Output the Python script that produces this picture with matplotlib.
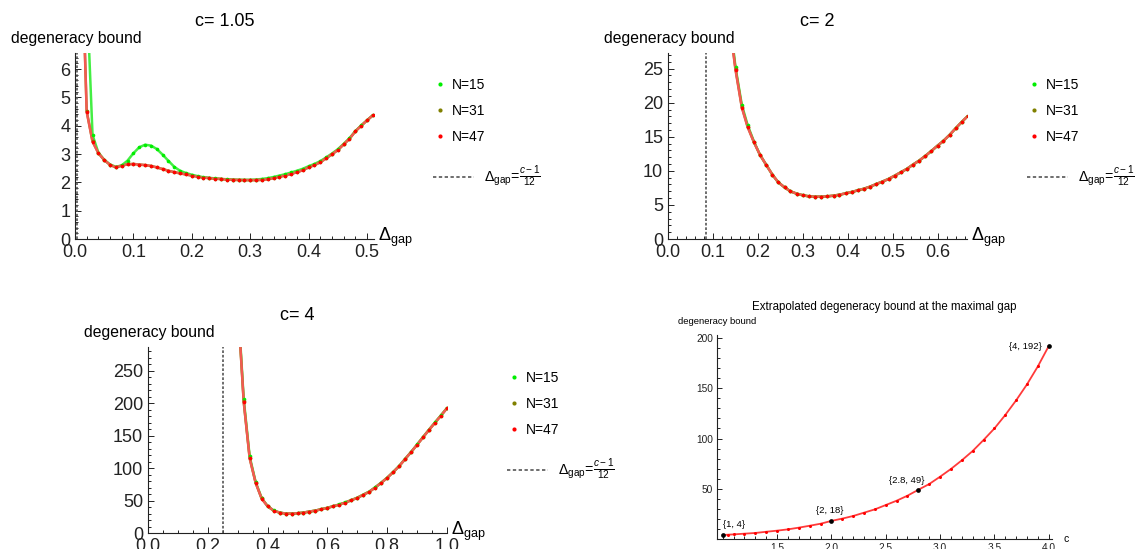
import matplotlib
matplotlib.use("Agg")
import matplotlib.pyplot as plt
from matplotlib.lines import Line2D
from matplotlib.ticker import MultipleLocator

plt.rcParams['font.family'] = 'Liberation Sans'
plt.rcParams['mathtext.fontset'] = 'custom'
plt.rcParams['mathtext.rm'] = 'Liberation Sans'
plt.rcParams['mathtext.it'] = 'Liberation Sans:italic'
plt.rcParams['mathtext.bf'] = 'Liberation Sans:bold'

# ---- c = 1.05 ----
gap_105 = [0.01, 0.02, 0.03, 0.04, 0.05, 0.06, 0.07, 0.08, 0.09, 0.10,
           0.11, 0.12, 0.13, 0.14, 0.15, 0.16, 0.17, 0.18, 0.19, 0.20,
           0.21, 0.22, 0.23, 0.24, 0.25, 0.26, 0.27, 0.28, 0.29, 0.30,
           0.31, 0.32, 0.33, 0.34, 0.35, 0.36, 0.37, 0.38, 0.39, 0.40,
           0.41, 0.42, 0.43, 0.44, 0.45, 0.46, 0.47, 0.48, 0.49, 0.50, 0.51]
n15_105 = [14.0, 8.8, 3.68, 3.05, 2.80, 2.63, 2.55, 2.60, 2.77, 3.03,
           3.24, 3.33, 3.30, 3.18, 2.98, 2.76, 2.55, 2.41, 2.33, 2.27,
           2.22, 2.18, 2.16, 2.14, 2.12, 2.11, 2.10, 2.09, 2.09, 2.09,
           2.10, 2.12, 2.15, 2.19, 2.24, 2.29, 2.35, 2.41, 2.48, 2.57,
           2.65, 2.75, 2.88, 3.02, 3.17, 3.36, 3.56, 3.81, 4.01, 4.19, 4.37]
n31_105 = [11.5, 4.52, 3.45, 3.04, 2.79, 2.62, 2.53, 2.59, 2.64, 2.65,
           2.63, 2.61, 2.58, 2.53, 2.47, 2.41, 2.36, 2.32, 2.28, 2.24,
           2.20, 2.17, 2.15, 2.13, 2.12, 2.10, 2.09, 2.085, 2.08, 2.08,
           2.08, 2.09, 2.11, 2.15, 2.20, 2.24, 2.30, 2.36, 2.43, 2.53,
           2.61, 2.71, 2.85, 2.99, 3.14, 3.34, 3.54, 3.80, 4.00, 4.19, 4.37]
n47_105 = [11.2, 4.49, 3.44, 3.03, 2.79, 2.62, 2.53, 2.59, 2.64, 2.65,
           2.63, 2.61, 2.58, 2.53, 2.47, 2.41, 2.36, 2.32, 2.28, 2.24,
           2.20, 2.17, 2.15, 2.13, 2.12, 2.10, 2.09, 2.085, 2.08, 2.08,
           2.08, 2.09, 2.11, 2.15, 2.20, 2.24, 2.30, 2.36, 2.43, 2.53,
           2.61, 2.71, 2.85, 2.99, 3.14, 3.34, 3.54, 3.80, 4.00, 4.19, 4.37]

# ---- c = 2 ----
gap_2 = [0.136, 0.150, 0.164, 0.177, 0.191, 0.204, 0.218, 0.232, 0.245, 0.259,
         0.272, 0.286, 0.300, 0.313, 0.327, 0.340, 0.354, 0.368, 0.381, 0.395,
         0.408, 0.422, 0.436, 0.449, 0.463, 0.476, 0.490, 0.504, 0.517, 0.531,
         0.544, 0.558, 0.572, 0.585, 0.599, 0.612, 0.626, 0.640, 0.653, 0.667]
n15_2 = [33.0, 25.2, 19.7, 16.7, 14.3, 12.4, 10.9, 9.44, 8.32, 7.58,
         7.00, 6.65, 6.41, 6.26, 6.21, 6.21, 6.26, 6.36, 6.50, 6.70,
         6.90, 7.14, 7.39, 7.68, 8.07, 8.41, 8.81, 9.30, 9.78, 10.3,
         10.9, 11.5, 12.2, 12.9, 13.7, 14.4, 15.3, 16.3, 17.2, 18.1]
n31_2 = [32.2, 25.0, 19.4, 16.5, 14.2, 12.4, 10.9, 9.44, 8.32, 7.58,
         7.00, 6.65, 6.41, 6.26, 6.21, 6.21, 6.26, 6.36, 6.50, 6.70,
         6.90, 7.14, 7.39, 7.68, 8.07, 8.41, 8.81, 9.30, 9.78, 10.3,
         10.9, 11.5, 12.2, 12.9, 13.7, 14.4, 15.3, 16.3, 17.2, 18.1]
n47_2 = [32.0, 24.8, 19.3, 16.4, 14.2, 12.4, 10.9, 9.44, 8.32, 7.58,
         7.00, 6.65, 6.41, 6.26, 6.21, 6.21, 6.26, 6.36, 6.50, 6.70,
         6.90, 7.14, 7.39, 7.68, 8.07, 8.41, 8.81, 9.30, 9.78, 10.3,
         10.9, 11.5, 12.2, 12.9, 13.7, 14.4, 15.3, 16.3, 17.2, 18.1]

# ---- c = 4 ----
gap_4 = [0.30, 0.32, 0.34, 0.36, 0.38, 0.40, 0.42, 0.44, 0.46, 0.48,
         0.50, 0.52, 0.54, 0.56, 0.58, 0.60, 0.62, 0.64, 0.66, 0.68,
         0.70, 0.72, 0.74, 0.76, 0.78, 0.80, 0.82, 0.84, 0.86, 0.88,
         0.90, 0.92, 0.94, 0.96, 0.98, 1.00]
n15_4 = [360, 207, 118, 78.5, 54, 41.5, 34.7, 31.5, 30.0, 30.0,
         30.5, 31.5, 33.0, 34.6, 36.7, 38.9, 41.4, 44.0, 47.1, 50.8,
         54.5, 59.2, 63.9, 70.5, 77.7, 85.3, 94.0, 103.3, 114.2, 124.9,
         136.4, 148.0, 159.4, 170.6, 181.4, 192.6]
n31_4 = [356, 203, 115.5, 77.4, 53.2, 41.2, 34.5, 31.4, 29.9, 29.9,
         30.4, 31.4, 33.0, 34.5, 36.6, 38.7, 41.2, 43.8, 46.9, 50.5,
         54.1, 58.8, 63.4, 70.1, 77.3, 85.0, 93.8, 103.0, 114.0, 124.7,
         136.0, 147.5, 159.0, 170.0, 181.0, 192.3]
n47_4 = [355, 202.6, 115, 77.3, 53, 41.2, 34.5, 31.4, 29.9, 29.9,
         30.4, 31.4, 33.0, 34.5, 36.6, 38.7, 41.2, 43.8, 46.9, 50.5,
         54.1, 58.8, 63.4, 70.1, 77.3, 85.0, 93.8, 103.0, 114.0, 124.7,
         136.0, 147.5, 159.0, 170.0, 181.0, 192.3]

# ---- extrapolated bound vs c ----
c_vals = [1.0, 1.05, 1.1, 1.2, 1.3, 1.4, 1.5, 1.6, 1.7, 1.8, 1.9, 2.0,
          2.1, 2.2, 2.3, 2.4, 2.5, 2.6, 2.7, 2.8, 2.9, 3.0,
          3.1, 3.2, 3.3, 3.4, 3.5, 3.6, 3.7, 3.8, 3.9, 4.0]
bound_vals = [4.0, 4.3, 4.6, 5.3, 6.0, 7.2, 8.3, 9.6, 11.3, 13.2, 15.2, 18.0,
              20.3, 22.9, 26.2, 29.5, 33.8, 38.1, 43.1, 49.0, 54.7, 62.0,
              69.7, 78.3, 87.6, 98.5, 110.0, 123.4, 138.0, 153.9, 171.8, 192.0]
marked_c = [1, 2, 2.8, 4]
marked_b = [4, 18, 49, 192]

W, H = 1136, 549
fig = plt.figure(figsize=(W / 100, H / 100), dpi=100)


def add_ax(l, t, r, b):
    return fig.add_axes([l / W, 1 - b / H, (r - l) / W, (b - t) / H])


def axis_style(ax, xmaj, xmin, ymaj, ymin, size, maj_len=4, min_len=2.2):
    for s in ['top', 'right']:
        ax.spines[s].set_visible(False)
    for s in ['left', 'bottom']:
        ax.spines[s].set_linewidth(0.8)
        ax.spines[s].set_color('#222222')
    ax.xaxis.set_major_locator(MultipleLocator(xmaj))
    ax.xaxis.set_minor_locator(MultipleLocator(xmin))
    ax.yaxis.set_major_locator(MultipleLocator(ymaj))
    ax.yaxis.set_minor_locator(MultipleLocator(ymin))
    ax.tick_params(which='both', direction='in', labelsize=size, colors='#222222',
                   width=0.7, pad=3.5)
    ax.tick_params(which='major', length=maj_len)
    ax.tick_params(which='minor', length=min_len)


cols = {'15': '#00ee00', '31': '#808000', '47': '#ff0000'}
line_cols = {'15': '#44ee44', '31': '#909020', '47': '#f25a52'}


def gap_panel(box, title, gap, y15, y31, y47, c, xlim, ylim, xmaj, xmin, ymaj, ymin,
              xfmt, leg_x, leg_y):
    ax = add_ax(*box)
    for key, ys in [('15', y15), ('31', y31), ('47', y47)]:
        ax.plot(gap, ys, color=line_cols[key], lw=1.8, solid_capstyle='round')
    for key, ys in [('15', y15), ('31', y31), ('47', y47)]:
        ax.plot(gap, ys, ls='none', marker='o', ms=2.6, color=cols[key], mew=0)
    ax.axvline((c - 1) / 12, color='#555555', lw=1.2, ls=(0, (1.6, 1.1)))
    ax.set_xlim(*xlim)
    ax.set_ylim(*ylim)
    axis_style(ax, xmaj, xmin, ymaj, ymin, 13)
    ax.xaxis.set_major_formatter(xfmt)
    ax.annotate(title, xy=(0.5, 1), xycoords='axes fraction', xytext=(0, 32),
                textcoords='offset pixels', ha='center', va='center', fontsize=13)
    ax.annotate('degeneracy bound', xy=(0, 1), xycoords='axes fraction',
                xytext=(-64, 15), textcoords='offset pixels', ha='left',
                va='center', fontsize=11.3)
    ax.annotate(r'$\Delta_{\mathrm{gap}}$', xy=(1, 0), xycoords='axes fraction',
                xytext=(4, 2), textcoords='offset pixels', ha='left', va='center',
                fontsize=13)
    handles = [Line2D([], [], ls='none', marker='o', ms=3, mew=0, color=cols[k])
               for k in ['15', '31', '47']]
    leg = ax.legend(handles, ['N=15', 'N=31', 'N=47'], loc='upper left',
                    bbox_to_anchor=(leg_x / W, 1 - leg_y / H),
                    bbox_transform=fig.transFigure, frameon=False, fontsize=10,
                    handlelength=0.8, handletextpad=0.5, labelspacing=0.86,
                    borderpad=0, borderaxespad=0)
    ax.add_artist(leg)
    dash = Line2D([], [], color='#555555', lw=1.2, ls=(0, (2.0, 1.5)))
    ax.legend([dash], [r'$\Delta_{\mathrm{gap}}$=$\frac{c-1}{12}$'], loc='center left',
              bbox_to_anchor=((leg_x - 1) / W, 1 - (leg_y + 99) / H),
              bbox_transform=fig.transFigure, frameon=False, fontsize=10.3,
              handlelength=2.9, handletextpad=0.7, borderpad=0, borderaxespad=0)
    return ax


fmt1 = matplotlib.ticker.FormatStrFormatter('%.1f')
gap_panel((75, 53, 374, 239), 'c= 1.05', gap_105, n15_105, n31_105, n47_105, 1.05,
          (0, 0.512), (0, 6.57), 0.1, 0.02, 1, 0.2, fmt1, 434, 78)
gap_panel((668, 53, 967, 239), 'c= 2', gap_2, n15_2, n31_2, n47_2, 2.0,
          (0, 0.6644), (0, 27.3), 0.1, 0.02, 5, 1, fmt1, 1028, 78)
gap_panel((148, 347, 447, 533), 'c= 4', gap_4, n15_4, n31_4, n47_4, 4.0,
          (0, 1.0), (0, 286.6), 0.2, 0.05, 50, 10, fmt1, 508, 371)

# ---- bottom right ----
ax4 = add_ax(717, 335, 1052, 539)
ax4.plot(c_vals, bound_vals, color='#ff3a3a', lw=1.3)
ax4.plot(c_vals, bound_vals, ls='none', marker='o', ms=2.2, mew=0, color='#ff0000')
ax4.plot(marked_c, marked_b, ls='none', marker='o', ms=3.4, mew=0, color='black')
ax4.set_xlim(0.947, 4.03)
ax4.set_ylim(0, 203)
axis_style(ax4, 0.5, 0.1, 50, 10, 7.3, maj_len=3.5, min_len=2)
ax4.tick_params(pad=3)
ax4.set_yticks([50, 100, 150, 200])
ax4.set_xticks([1.5, 2.0, 2.5, 3.0, 3.5, 4.0])
ax4.xaxis.set_major_formatter(fmt1)

offsets = [((0, 6), 'left', 'bottom'), ((-2, 6), 'center', 'bottom'),
           ((-12, 5), 'center', 'bottom'), ((-7, 0), 'right', 'center')]
for cc, bb, (off, ha, va) in zip(marked_c, marked_b, offsets):
    ax4.annotate('{%g, %g}' % (cc, bb), xy=(cc, bb), xytext=off,
                 textcoords='offset pixels', ha=ha, va=va, fontsize=6.8)

ax4.annotate('Extrapolated degeneracy bound at the maximal gap', xy=(0.5, 1),
             xycoords='axes fraction', xytext=(0, 28), textcoords='offset pixels',
             ha='center', va='center', fontsize=8.3)
ax4.annotate('degeneracy bound', xy=(0, 1), xycoords='axes fraction',
             xytext=(-39, 13), textcoords='offset pixels', ha='left', va='center',
             fontsize=6.8)
ax4.annotate('c', xy=(1, 0), xycoords='axes fraction', xytext=(12, 0),
             textcoords='offset pixels', ha='left', va='center', fontsize=7.5)

fig.savefig('out.png', dpi=100)
